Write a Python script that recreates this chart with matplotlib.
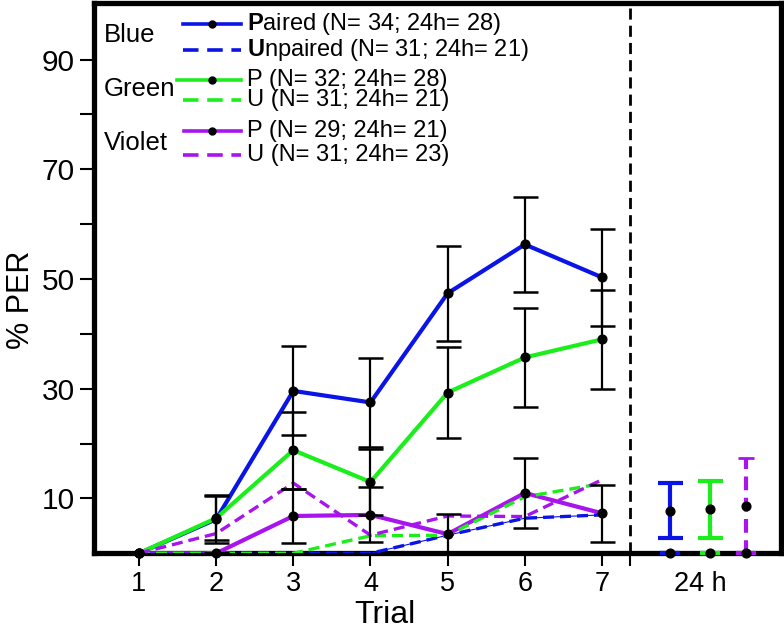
import matplotlib
matplotlib.use("Agg")
import matplotlib.pyplot as plt
from matplotlib.lines import Line2D
import numpy as np

plt.rcParams['font.family'] = ['Liberation Sans', 'DejaVu Sans']
plt.rcParams['mathtext.fontset'] = 'custom'
plt.rcParams['mathtext.rm'] = 'Liberation Sans'
plt.rcParams['mathtext.bf'] = 'Liberation Sans:bold'

# ---------------- data ----------------
trials = [1, 2, 3, 4, 5, 6, 7]
x_tick_labels = ['1', '2', '3', '4', '5', '6', '7', '24 h']

blue_paired = [0, 6.2, 29.6, 27.5, 47.4, 56.3, 50.3]
blue_paired_err = [0, 4.4, 8.1, 8.1, 8.7, 8.6, 8.9]
green_paired = [0, 6.4, 18.8, 13.0, 29.3, 35.7, 39.0]
green_paired_err = [0, 4.0, 7.0, 6.0, 8.3, 9.0, 9.0]
violet_paired = [0, 0, 6.8, 7.0, 3.5, 11.0, 7.3]
violet_paired_err = [0, 0, 5.0, 5.0, 3.6, 6.3, 5.2]

blue_unpaired = [0, 0, 0, 0, 3.3, 6.4, 7.0]
green_unpaired = [0, 0, 0, 3.2, 3.3, 10.3, 12.7]
violet_unpaired = [0, 3.6, 12.8, 3.3, 6.8, 6.7, 13.4]

h24_x = [7.88, 8.40, 8.87]
h24_paired = [7.8, 8.0, 8.6]
h24_paired_err = [5.0, 5.2, 8.7]
h24_unpaired = [0, 0, 0]

legend_groups = ['Blue', 'Green', 'Violet']
legend_paired = [r'$\mathbf{P}$aired (N= 34; 24h= 28)', 'P (N= 32; 24h= 28)', 'P (N= 29; 24h= 21)']
legend_unpaired = [r'$\mathbf{U}$npaired (N= 31; 24h= 21)', 'U (N= 31; 24h= 21)', 'U (N= 31; 24h= 23)']

BLUE = '#0a14e6'
GREEN = '#1cee1c'
VIOLET = '#a814ee'
colors = [BLUE, GREEN, VIOLET]

W, H = 784, 631
fig = plt.figure(figsize=(W / 100, H / 100), dpi=100)
ax_l, ax_r, ax_t, ax_b = 94, 781, 2.5, 553.3
ax = fig.add_axes([ax_l / W, 1 - ax_b / H, (ax_r - ax_l) / W, (ax_b - ax_t) / H])

ax.set_xlim(0.417, 9.32)
ax.set_ylim(0, 100.4)

DASH = (3.3, 1.8)
paired = [blue_paired, green_paired, violet_paired]
paired_err = [blue_paired_err, green_paired_err, violet_paired_err]
unpaired = [blue_unpaired, green_unpaired, violet_unpaired]

# paired solid lines
for vals, c in zip(paired, colors):
    ax.plot(trials, vals, color=c, lw=3.0, zorder=3, solid_capstyle='butt')
# unpaired dashed lines
ax.plot(trials, blue_unpaired, color=BLUE, lw=0.8, zorder=3.5)
for vals, c in zip(unpaired, colors):
    ax.plot(trials, vals, color=c, lw=2.4, dashes=DASH, zorder=3.5)

# error bars (black)
for vals, errs in zip(paired, paired_err):
    ax.errorbar(trials[1:], vals[1:], yerr=errs[1:], fmt='none', ecolor='black',
                elinewidth=1.6, capsize=9, capthick=1.8, zorder=4)
    ax.plot(trials, vals, 'o', color='black', ms=6.3, zorder=6, clip_on=False)

# 24 h
for i in range(2):
    ax.errorbar(h24_x[i], h24_paired[i], yerr=h24_paired_err[i], fmt='none', ecolor=colors[i],
                elinewidth=3, capsize=9, capthick=3, zorder=4)
eb = ax.errorbar(h24_x[2], h24_paired[2], yerr=h24_paired_err[2], fmt='none', ecolor=VIOLET,
                 elinewidth=3, capsize=6, capthick=2, zorder=4)
eb[2][0].set_linestyle((0, (3.3, 1.8)))
for cap in eb[1]:
    cap.set_color('black')
for i in range(3):
    ax.errorbar(h24_x[i], h24_unpaired[i], yerr=0, fmt='none', ecolor=colors[i],
                elinewidth=2.4, capsize=7, capthick=3, zorder=5, clip_on=False)
ax.plot(h24_x, h24_paired, 'o', color='black', ms=6.3, zorder=6)
ax.plot(h24_x, h24_unpaired, 'o', color='black', ms=6.3, zorder=6, clip_on=False)

# separator
ax.axvline(7.36, color='black', lw=2, dashes=(4, 2.2), zorder=2)

# spines and ticks
for s in ax.spines.values():
    s.set_linewidth(3.8)
ax.set_yticks([10, 30, 50, 70, 90])
ax.set_yticks([20, 40, 60, 80], minor=True)
ax.tick_params(axis='y', which='both', length=10, width=1.5, labelsize=21.5, pad=4, direction='out')
ax.set_xticks(trials + [8.27])
ax.set_xticklabels(x_tick_labels)
ax.set_xticks([7.36], minor=True)
ax.tick_params(axis='x', which='both', length=9, width=1.5, labelsize=19.5, pad=4, direction='out')
ax.xaxis.get_major_ticks()[-1].tick1line.set_visible(False)

ax.set_ylabel('% PER', fontsize=22, va='center')
ax.yaxis.set_label_coords((21 - ax_l) / (ax_r - ax_l), (ax_b - 300) / (ax_b - ax_t))
ax.set_xlabel('Trial', fontsize=23, va='bottom')
ax.xaxis.set_label_coords((385 - ax_l) / (ax_r - ax_l), (ax_b - 630) / (ax_b - ax_t))

# legend (manual, positions in pixels)
def fx(px):
    return px / W
def fy(py):
    return 1 - py / H

group_y = [35, 89, 143]
solid_y = [24, 80, 131]
dash_y = [50, 100, 155]
line_x0 = [183, 177, 184]
for i in range(3):
    fig.text(fx(104), fy(group_y[i]), legend_groups[i], fontsize=18.5, ha='left', va='center')
    fig.add_artist(Line2D([fx(line_x0[i]), fx(241)], [fy(solid_y[i])] * 2, color=colors[i], lw=2.6))
    fig.add_artist(Line2D([fx(212)], [fy(solid_y[i])], marker='o', color='black', ms=5))
    fig.add_artist(Line2D([fx(183), fx(241)], [fy(dash_y[i])] * 2, color=colors[i], lw=2.6,
                          dashes=(4.3, 2.4)))
    fig.text(fx(247), fy(solid_y[i]), legend_paired[i], fontsize=17, ha='left', va='center')
    fig.text(fx(247), fy(dash_y[i]), legend_unpaired[i], fontsize=17, ha='left', va='center')

fig.savefig('out.png', dpi=100)
